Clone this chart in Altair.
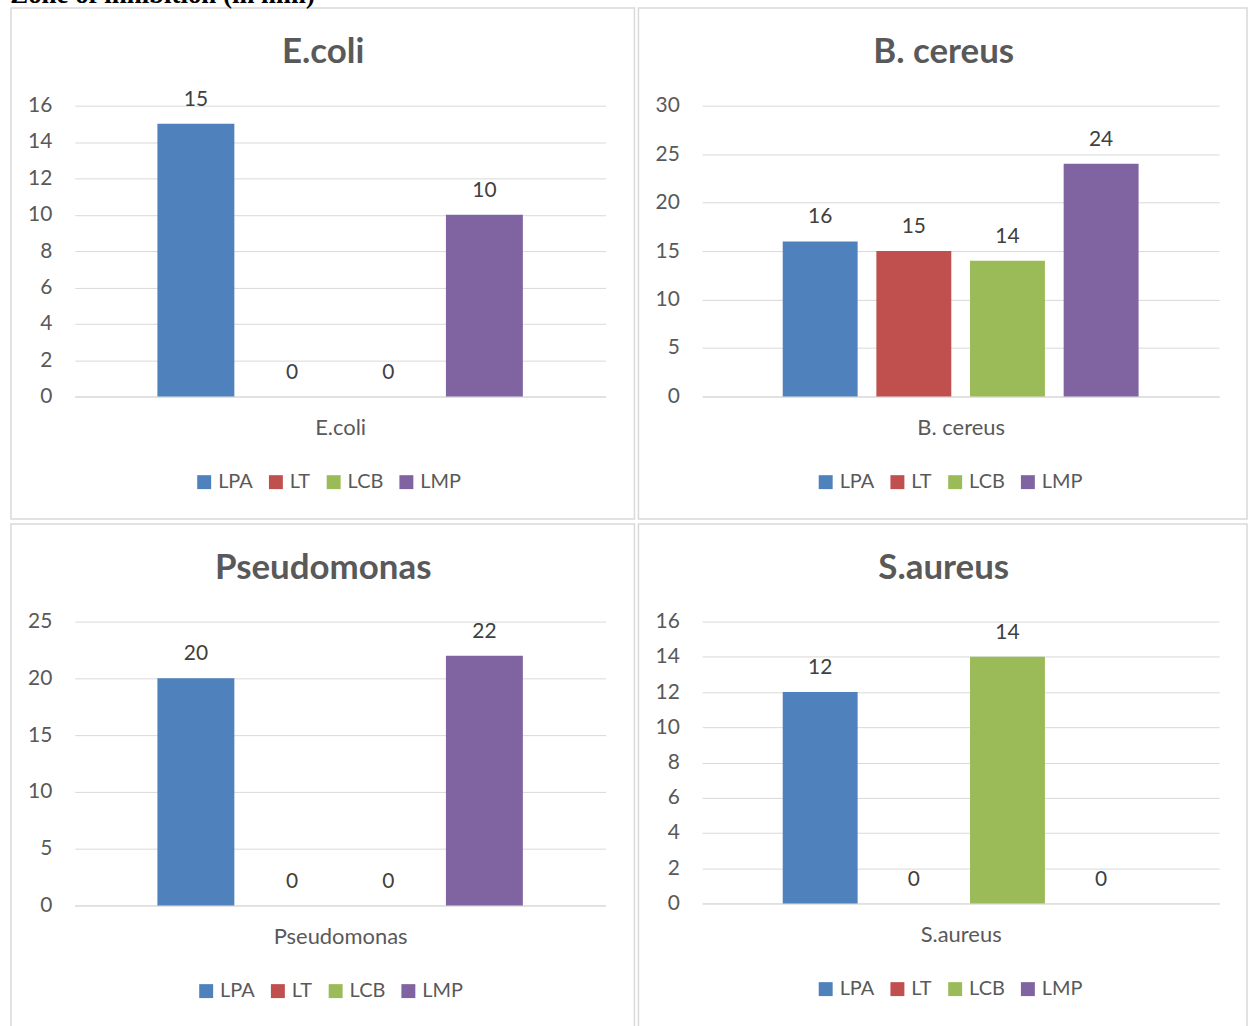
import altair as alt
import pandas as pd

organisms = ["E.coli", "B. cereus", "Pseudomonas", "S.aureus"]
series = ["LPA", "LT", "LCB", "LMP"]
colors = ["#4F81BD", "#C0504D", "#9BBB59", "#8064A2"]
values = {
    "E.coli": [15, 0, 0, 10],
    "B. cereus": [16, 15, 14, 24],
    "Pseudomonas": [20, 0, 0, 22],
    "S.aureus": [12, 0, 14, 0],
}
y_max = {"E.coli": 16, "B. cereus": 30, "Pseudomonas": 25, "S.aureus": 16}
y_step = {"E.coli": 2, "B. cereus": 5, "Pseudomonas": 5, "S.aureus": 2}

FONT = "Lato"
GREY = "#595959"
GRID = "#d9d9d9"


def panel(org, w, h, x2ext, y2ext, legx):
    df = pd.DataFrame({"series": series, "value": values[org]})
    one = pd.DataFrame({"k": [0]})
    ymax = y_max[org]
    step = y_step[org]
    xenc = alt.X(
        "series:N",
        sort=series,
        scale=alt.Scale(domain=series, paddingInner=0.2, paddingOuter=0.86),
        axis=alt.Axis(
            title=org, labels=False, ticks=False, grid=False,
            domainColor=GRID, domainWidth=1,
            titleFontSize=22, titleFont=FONT, titleFontWeight="normal",
            titleColor=GREY, titlePadding=21,
        ),
    )
    yenc = alt.Y(
        "value:Q",
        scale=alt.Scale(domain=[0, ymax], nice=False),
        axis=alt.Axis(
            values=list(range(0, ymax + 1, step)), title=None, domain=False,
            ticks=False, labelPadding=23, labelFontSize=21, labelFont=FONT,
            labelColor=GREY, gridColor=GRID, labelOverlap=False,
        ),
    )
    border = alt.Chart(one).mark_rect(
        fillOpacity=0, stroke=GRID, strokeWidth=1.5
    ).encode(
        x=alt.value(-64), x2=alt.value(x2ext), y=alt.value(-98), y2=alt.value(y2ext)
    )
    bars = alt.Chart(df).mark_bar().encode(
        x=xenc,
        y=yenc,
        color=alt.Color(
            "series:N",
            scale=alt.Scale(domain=series, range=colors),
            legend=alt.Legend(
                orient="none", legendX=legx, legendY=h + 76,
                direction="horizontal", title=None, symbolType="square",
                symbolSize=196, symbolStrokeWidth=0, labelFontSize=20,
                labelFont=FONT, labelColor=GREY, columnPadding=13, labelOffset=4,
            ),
        ),
    )
    labels = alt.Chart(df).mark_text(
        dy=-18, baseline="alphabetic", fontSize=21, font=FONT, color="#404040"
    ).encode(x=xenc, y=yenc, text="value:Q")
    title = alt.Chart(one).mark_text(
        text=org, fontSize=35, fontWeight="bold", font=FONT, color=GREY,
        align="center", baseline="middle",
    ).encode(x=alt.value(w / 2 - 17), y=alt.value(-54))
    return alt.layer(border, bars, labels, title).properties(width=w, height=h)


p1 = panel("E.coli", 533, 292, 562, 415, 120)
p2 = panel("B. cereus", 519, 292, 547, 415, 114)
p3 = panel("Pseudomonas", 533, 285, 562, 285 + 130, 122)
p4 = panel("S.aureus", 519, 283, 547, 283 + 130, 114)

chart = alt.vconcat(
    alt.hconcat(p1, p2, spacing=2).resolve_scale(color="independent").resolve_legend(color="independent"),
    alt.hconcat(p3, p4, spacing=2).resolve_scale(color="independent").resolve_legend(color="independent"),
    spacing=3,
).resolve_scale(color="independent").resolve_legend(color="independent").properties(
    title=alt.TitleParams(
        "Zone of inhibition (in mm)", anchor="start", font="Liberation Serif",
        fontSize=27, fontWeight="bold", color="black", offset=-2,
    ),
    padding={"left": 10, "top": -21, "right": 0, "bottom": 0},
    background="white",
).configure_view(stroke=None)

chart.save("out.html", embed_options={"renderer": "svg", "actions": False})
